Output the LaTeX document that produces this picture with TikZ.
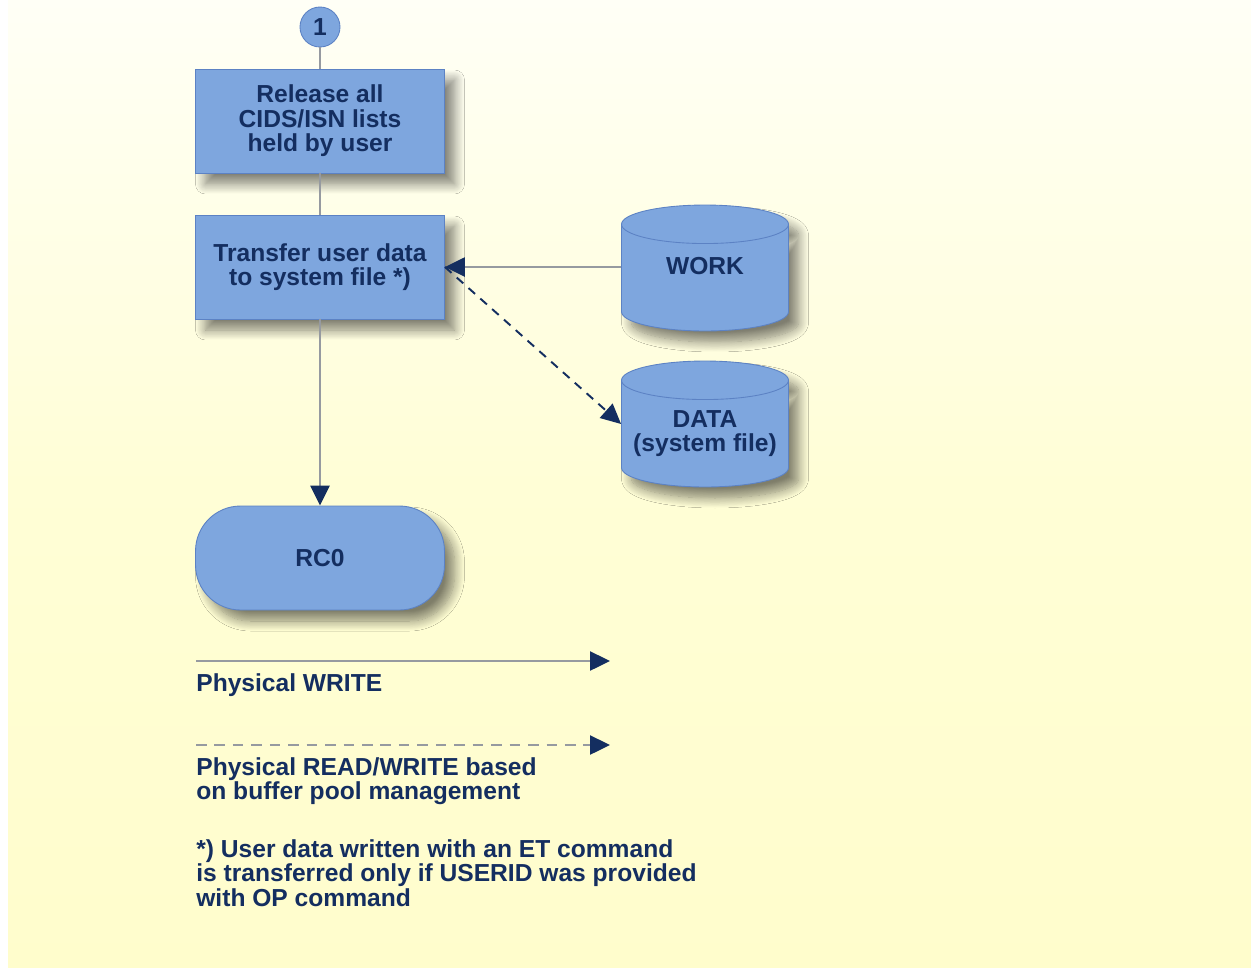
\documentclass[tikz,border=0pt]{standalone}
\usepackage{fontspec}
\setmainfont{Liberation Sans}
\usepackage{tikz}
\usetikzlibrary{shapes, arrows.meta, shadows.blur}

\definecolor{boxblue}{RGB}{126,166,222}
\definecolor{boxline}{RGB}{92,130,196}
\definecolor{navy}{RGB}{20,46,96}
\definecolor{linegray}{RGB}{150,154,160}
\definecolor{bgtop}{RGB}{255,255,246}
\definecolor{bgmid}{RGB}{255,254,214}
\definecolor{bgbot}{RGB}{255,253,204}

\begin{document}
\begin{tikzpicture}[x=0.02cm, y=-0.02cm,
    every node/.style={font=\bfseries\fontsize{14}{14}\selectfont, text=navy},
    softshadow/.style={blur shadow={shadow xshift=0.2cm, shadow yshift=-0.22cm,
        shadow blur radius=0.2cm, shadow blur steps=12, shadow opacity=50}},
    box/.style={draw=boxline, fill=boxblue, line width=0.5pt, minimum width=4.98cm,
        minimum height=2.08cm, align=center, softshadow},
    endbox/.style={box, rounded corners=0.9cm},
    connector/.style={circle, draw=boxline, fill=boxblue, line width=0.5pt,
        minimum size=0.8cm, inner sep=0pt},
    store/.style={cylinder, shape border rotate=90, aspect=0.43, draw=boxline,
        fill=boxblue, line width=0.5pt, minimum width=3.34cm, minimum height=2.52cm,
        align=center, anchor=shape center, text depth=0.6cm, softshadow},
    flow/.style={draw=linegray, line width=1.4pt,
        -{Triangle[length=0.4cm, width=0.38cm, color=navy]}},
    bufflow/.style={draw=navy, line width=1.1pt, dash pattern=on 5pt off 4pt,
        -{Triangle[length=0.4cm, width=0.38cm, color=navy]}},
    note/.style={anchor=north west, inner sep=0pt, align=left}]

    % page and background
    \useasboundingbox (0,0) rectangle (1251,971);
    \fill[white] (0,0) rectangle (1251,971);
    \shade[top color=bgtop, bottom color=bgbot, middle color=bgmid] (8,0) rectangle (1251,967);

    % flow
    \node[connector] (c1) at (320,27) {1};
    \node[box] (release) at (320,121) {Release all\\CIDS/ISN lists\\held by user};
    \node[box] (transfer) at (320,267) {Transfer user data\\to system file *)};
    \node[endbox] (rc) at (320,558) {RC0};
    \node[store] (work) at (705,268) {WORK};
    \node[store] (data) at (705,424) {\phantom{WORK}};
    \node[align=center] (datatxt) at ([yshift=-0.19cm]data.shape center) {DATA\\(system file)};

    \draw[draw=linegray, line width=1.4pt] (c1) -- (release);
    \draw[draw=linegray, line width=1.4pt] (release) -- (transfer);
    \draw[flow] (transfer) -- (rc);
    \draw[flow] (work.west |- transfer.east) -- (transfer.east);
    \draw[bufflow] (transfer.east) -- (data.west |- data.shape center);

    % legend
    \coordinate (w1) at (196,661);
    \coordinate (w2) at (610,661);
    \coordinate (b1) at (196,745);
    \coordinate (b2) at (610,745);
    \draw[flow] (w1) -- (w2);
    \draw[flow, dash pattern=on 6pt off 4.5pt] (b1) -- (b2);
    \node[note] (lw) at (196,673) {Physical WRITE};
    \node[note] (lb) at (196,757) {Physical READ/WRITE based\\on buffer pool management};
    \node[note] (fn) at (196,839) {*) User data written with an ET command\\is transferred only if USERID was provided\\with OP command};
\end{tikzpicture}
\end{document}
